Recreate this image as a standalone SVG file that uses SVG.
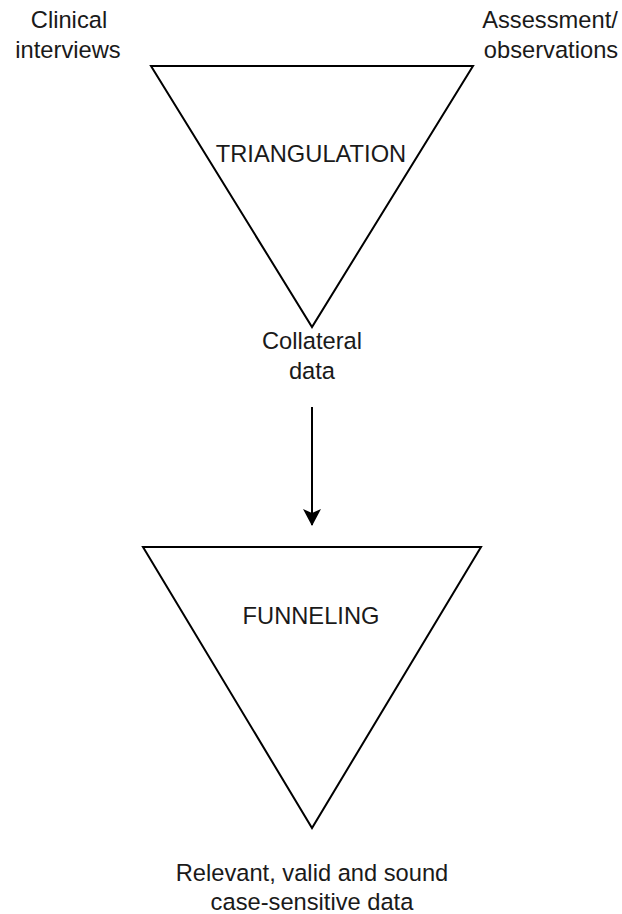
<svg xmlns="http://www.w3.org/2000/svg" width="622" height="914" viewBox="0 0 622 914">
<style>
.t{font-family:"Liberation Sans",Arial,sans-serif;font-size:23.7px;fill:#1a1a1a;text-anchor:middle}
.tri{fill:#fff;stroke:#000;stroke-width:2;stroke-linejoin:miter}
.conn{stroke:#000;stroke-width:2;fill:none}
</style>
<defs>
<marker id="arr" viewBox="0 0 17 18" refX="16" refY="9" markerWidth="17" markerHeight="18" markerUnits="userSpaceOnUse" orient="auto">
<path d="M0,0 L17,9 L0,18 L4,9 Z" fill="#000"/>
</marker>
</defs>
<rect width="622" height="914" fill="#fff"/>
<g id="label-clinical"><text class="t" x="69" y="28">Clinical</text><text class="t" x="68" y="58">interviews</text></g>
<g id="label-assessment"><text class="t" x="550" y="28">Assessment/</text><text class="t" x="551" y="58">observations</text></g>
<g id="triangulation"><polygon class="tri" points="151,66 473,66 312,327"/><text class="t" x="311" y="162">TRIANGULATION</text></g>
<g id="label-collateral"><text class="t" x="312" y="349">Collateral</text><text class="t" x="312" y="379">data</text></g>
<g id="funneling"><polygon class="tri" points="143,547 481,547 312,828"/><text class="t" x="311" y="624">FUNNELING</text></g>
<g id="label-result"><text class="t" x="312" y="881">Relevant, valid and sound</text><text class="t" x="312" y="910">case-sensitive data</text></g>
<g id="connectors"><line class="conn" x1="312" y1="407" x2="312" y2="525" marker-end="url(#arr)"/></g>
</svg>
